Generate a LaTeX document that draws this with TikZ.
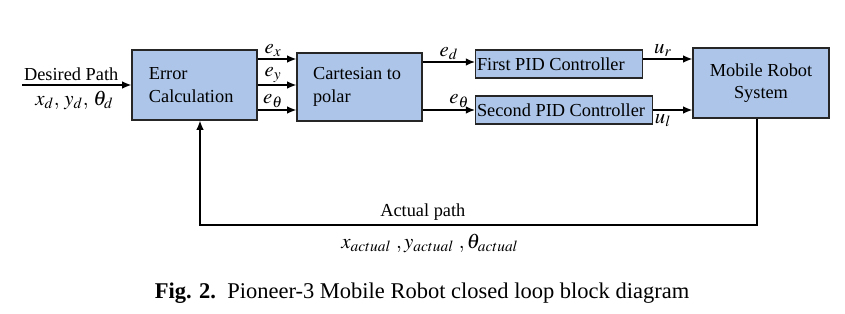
\documentclass[tikz,border=0pt]{standalone}
\usepackage{mathptmx}
\usepackage{fontspec}
\setmainfont{Liberation Serif}
\usetikzlibrary{arrows.meta,calc}
\definecolor{BlockClr}{RGB}{172,197,232}

\begin{document}
\begin{tikzpicture}[x=0.6pt,y=-0.6pt,
  font=\fontsize{11}{13.5}\selectfont,
  block/.style={draw=black!85,line width=0.8pt,fill=BlockClr,inner sep=0pt},
  sig/.style={font=\fontsize{12.5}{14}\selectfont,inner sep=1pt},
  arr/.style={-{Latex[length=5.5pt,width=4.5pt]},line width=0.8pt}]
\useasboundingbox (0,0) rectangle (845,313);

% blocks
\node[block,minimum width=75pt,minimum height=42pt] (err) at (194.5,85) {};
\node[align=left,anchor=west] at (err.west) [xshift=7pt] {Error\\Calculation};
\node[block,minimum width=75pt,minimum height=40.8pt] (cart) at (359.5,87) {};
\node[align=left,anchor=west] at (cart.west) [xshift=6.5pt] {Cartesian to\\polar};
\node[block,minimum width=100.2pt,minimum height=16.8pt,anchor=west] (pid1) at (475,64) {};
\node[anchor=west,inner sep=0pt] at (pid1.west) [xshift=1pt] {First PID Controller};
\node[block,minimum width=106.2pt,minimum height=16.8pt,anchor=west] (pid2) at (475,110) {};
\node[anchor=west,inner sep=0pt] at (pid2.west) [xshift=1pt] {Second PID Controller};
\node[block,minimum width=81.6pt,minimum height=42pt,align=center] (robot) at (761,83) {Mobile Robot\\System};

% input
\coordinate (in) at (22,85);
\draw[arr] (in) -- (err.west |- in)
  node[pos=0.45,above,inner sep=2pt] {Desired Path}
  node[pos=0.48,below,sig,inner sep=3pt] {$x_d,\,y_d,\,\theta_d$};

% errors
\draw[arr] (err.east |- 0,59) -- (cart.west |- 0,59) node[pos=0.4,above,sig] {$e_x$};
\draw[arr] (err.east |- 0,85) -- (cart.west |- 0,85) node[pos=0.4,above,sig] {$e_y$};
\draw[arr] (err.east |- 0,110) -- (cart.west |- 0,110) node[pos=0.4,above,sig] {$e_\theta$};

\draw[arr] (cart.east |- 0,62) -- (pid1.west |- 0,62) node[pos=0.5,above,sig] {$e_d$};
\draw[arr] (cart.east |- pid2.west) -- (pid2.west) node[pos=0.7,above,sig] {$e_\theta$};

\draw[arr] (pid1.east |- 0,59) -- (robot.west |- 0,59) node[pos=0.4,above,sig] {$u_r$};
\draw[arr] (pid2.east) -- (robot.west |- pid2.east) node[pos=0.25,below,sig,inner sep=2pt] {$u_l$};

% feedback
\coordinate (fbR) at (757,225);
\coordinate (fbL) at (200,225);
\draw[arr] (robot.south -| fbR) -- (fbR) -- (fbL)
  node[pos=0.6,above,inner sep=2.5pt] {Actual path}
  node[pos=0.587,below,sig,inner sep=5pt] {$x_{actual}\;,y_{actual}\;,\theta_{actual}$}
  -- (err.south -| fbL);

% caption
\node[font=\fontsize{13.5}{16}\selectfont] (cap) at (422,293) {\textbf{Fig. 2.}\enspace Pioneer-3 Mobile Robot closed loop block diagram};
\end{tikzpicture}
\end{document}
